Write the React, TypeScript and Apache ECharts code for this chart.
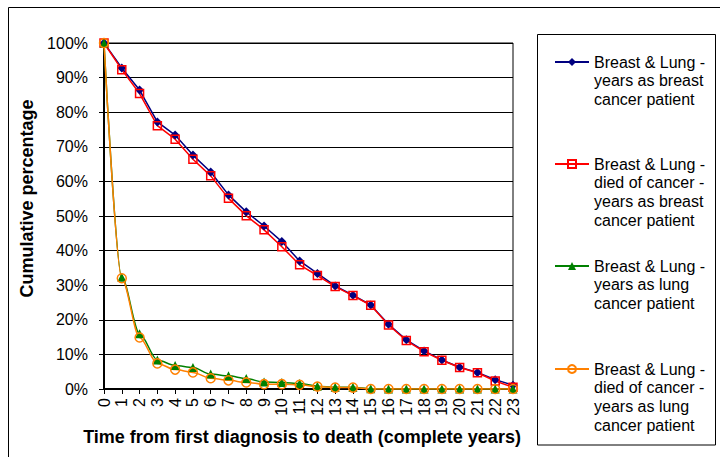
import React, { useEffect, useRef } from "react";
import * as echarts from "echarts";

const years = ["0","1","2","3","4","5","6","7","8","9","10","11","12","13","14","15","16","17","18","19","20","21","22","23"];

const breastYears = [100, 92.8, 86.4, 77.2, 73.4, 67.6, 62.7, 56.1, 51.2, 47.1, 42.6, 37.0, 33.4, 29.8, 27.1, 24.3, 18.7, 14.2, 11.0, 8.4, 6.3, 4.8, 2.7, 1.1];
const breastDied = [100, 92.3, 85.4, 76.1, 72.2, 66.4, 61.6, 55.1, 50.1, 46.0, 41.1, 35.9, 32.8, 29.6, 27.0, 24.2, 18.5, 14.0, 10.8, 8.3, 6.2, 4.7, 2.3, 0.5];
const lungYears = [100, 32.3, 16.0, 8.4, 6.8, 6.2, 4.3, 3.8, 3.0, 2.0, 1.9, 1.6, 0.8, 0.5, 0.5, 0.1, 0, 0, 0, 0, 0, 0, 0, 0];
const lungDied = [100, 32.0, 14.9, 7.4, 5.6, 4.8, 3.1, 2.5, 1.9, 1.4, 1.4, 1.2, 0.7, 0.4, 0.4, 0, 0, 0, 0, 0, 0, 0, 0, 0];

const yTicks = [0, 10, 20, 30, 40, 50, 60, 70, 80, 90, 100];

const seriesNames = [
  "Breast & Lung -\nyears as breast\ncancer patient",
  "Breast & Lung -\ndied of cancer -\nyears as breast\ncancer patient",
  "Breast & Lung -\nyears as lung\ncancer patient",
  "Breast & Lung -\ndied of cancer -\nyears as lung\ncancer patient",
];
const seriesColors = ["#000080", "#FF0000", "#008000", "#FF8000"];

const FONT = "'Liberation Sans', Arial, sans-serif";
const LH = 18.7;
const legendFirstLine = [62, 164, 266, 369];

export default function App() {
  const ref = useRef<HTMLDivElement>(null);
  useEffect(() => {
    if (!ref.current) return;
    const chart = echarts.init(ref.current, null, { renderer: "svg" });
    const legends = seriesNames.map((name, i) => {
      const n = name.split("\n").length;
      const total = 2 * n - 1;
      const top = legendFirstLine[i] - (total * LH) / 2;
      return {
        show: true,
        left: 554,
        top,
        padding: 0,
        orient: "vertical",
        itemWidth: 34,
        itemHeight: 10,
        selectedMode: false,
        data: [name],
        formatter: (nm: string) => "\n".repeat(n - 1) + nm,
        textStyle: { fontFamily: FONT, fontSize: 16, color: "#000", lineHeight: LH },
      };
    });
    const option: any = {
      animation: false,
      backgroundColor: "#fff",
      textStyle: { fontFamily: FONT },
      graphic: [
        { type: "rect", shape: { x: 8.5, y: 7.5, width: 800, height: 800 }, style: { fill: "none", stroke: "#000", lineWidth: 1 }, silent: true },
        { type: "rect", shape: { x: 537.5, y: 34.5, width: 178, height: 410.5 }, style: { fill: "none", stroke: "#000", lineWidth: 1 }, silent: true },
      ],
      legend: legends,
      grid: {
        left: 104,
        top: 43,
        right: 207,
        bottom: 68,
        show: true,
        borderColor: "#000",
        borderWidth: 1,
        backgroundColor: "transparent",
      },
      xAxis: {
        type: "category",
        data: years,
        boundaryGap: false,
        name: "Time from first diagnosis to death (complete years)",
        nameLocation: "middle",
        nameGap: 39,
        nameTextStyle: { fontFamily: FONT, fontSize: 18, fontWeight: "bold", color: "#000", padding: [0, 13, 0, 0] },
        axisLine: { lineStyle: { color: "#000", width: 2 } },
        axisTick: { show: true, length: 5, lineStyle: { color: "#000" } },
        axisLabel: { rotate: 90, interval: 0, fontSize: 16, color: "#000", fontFamily: FONT, margin: 9 },
        splitLine: { show: false },
      },
      yAxis: {
        type: "value",
        min: yTicks[0],
        max: yTicks[yTicks.length - 1],
        interval: 10,
        name: "Cumulative percentage",
        nameLocation: "middle",
        nameGap: 56,
        nameTextStyle: { fontFamily: FONT, fontSize: 18, fontWeight: "bold", color: "#000", padding: [0, 0, 0, 35] },
        axisLine: { show: true, lineStyle: { color: "#000", width: 2 } },
        axisTick: { show: true, length: 5, lineStyle: { color: "#000" } },
        axisLabel: { formatter: "{value}%", fontSize: 16, color: "#000", fontFamily: FONT, margin: 16 },
        splitLine: { show: true, lineStyle: { color: "#000", width: 1 } },
      },
      series: [
        {
          name: seriesNames[0],
          type: "line",
          data: breastYears,
          symbol: "diamond",
          symbolSize: 9,
          color: seriesColors[0],
          itemStyle: { color: seriesColors[0] },
          lineStyle: { color: seriesColors[0], width: 1.5 },
        },
        {
          name: seriesNames[1],
          type: "line",
          data: breastDied,
          symbol: "rect",
          symbolSize: 8,
          color: seriesColors[1],
          itemStyle: { color: "rgba(255,255,255,0)", borderColor: seriesColors[1], borderWidth: 1.5 },
          lineStyle: { color: seriesColors[1], width: 1.5 },
        },
        {
          name: seriesNames[2],
          type: "line",
          data: lungYears,
          symbol: "triangle",
          symbolSize: 9,
          smooth: 0.3,
          smoothMonotone: "x",
          color: seriesColors[2],
          itemStyle: { color: seriesColors[2] },
          lineStyle: { color: seriesColors[2], width: 1.5 },
        },
        {
          name: seriesNames[3],
          type: "line",
          data: lungDied,
          symbol: "circle",
          symbolSize: 9,
          smooth: 0.3,
          smoothMonotone: "x",
          color: seriesColors[3],
          itemStyle: { color: "rgba(255,255,255,0)", borderColor: seriesColors[3], borderWidth: 1.5 },
          lineStyle: { color: seriesColors[3], width: 1.5 },
        },
      ],
    };
    chart.setOption(option);
    return () => chart.dispose();
  }, []);
  return (
    <div
      ref={ref}
      style={{ position: "absolute", left: 0, top: 0, width: 720, height: 457, background: "#fff" }}
    />
  );
}
